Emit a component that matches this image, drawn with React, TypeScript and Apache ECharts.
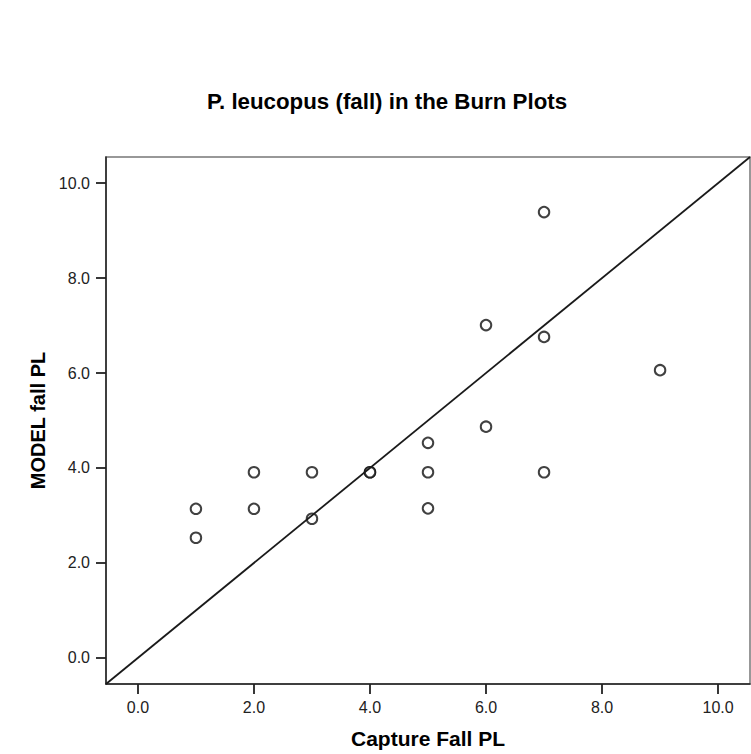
import React, { useEffect, useRef } from "react";
import * as echarts from "echarts";

const captureFall = [1, 1, 2, 2, 3, 3, 4, 4, 5, 5, 5, 6, 6, 7, 7, 7, 9];
const modelFall = [3.14, 2.53, 3.91, 3.14, 3.91, 2.93, 3.91, 3.91, 4.53, 3.91, 3.15, 7.01, 4.87, 9.39, 6.76, 3.91, 6.06];
const tickValues = [0, 2, 4, 6, 8, 10];
const axisMin = -0.55;
const axisMax = 10.55;
const refLine = [axisMin, axisMax];

const FONT = "'Liberation Sans', Arial, sans-serif";

export default function App() {
  const ref = useRef<HTMLDivElement>(null);
  useEffect(() => {
    if (!ref.current) return;
    const chart = echarts.init(ref.current, undefined, { renderer: "svg" });
    const points = captureFall.map((x, i) => [x, modelFall[i]]);
    const axisCommon = (name: string, gap: number, labelMargin: number, nameSize: number) => ({
      type: "value",
      min: axisMin,
      max: axisMax,
      name,
      nameLocation: "middle",
      nameGap: gap,
      nameTextStyle: { fontFamily: FONT, fontSize: nameSize, fontWeight: "bold", color: "#000" },
      splitLine: { show: false },
      axisLine: { show: true, onZero: false, lineStyle: { color: "#222", width: 1.5 } },
      axisTick: {
        show: true,
        length: 10,
        customValues: tickValues,
        lineStyle: { color: "#222", width: 1.8 },
      },
      axisLabel: {
        customValues: tickValues,
        margin: labelMargin,
        fontFamily: FONT,
        fontSize: 16,
        color: "#222",
        formatter: (v: number) => v.toFixed(1),
      },
    });
    chart.setOption({
      animation: false,
      backgroundColor: "#fff",
      title: {
        text: "P. leucopus (fall) in the Burn Plots",
        left: 202,
        top: 85,
        textStyle: { fontFamily: FONT, fontSize: 22.3, fontWeight: "bold", color: "#000" },
      },
      grid: {
        left: 106,
        top: 157,
        right: 1,
        bottom: 68,
        show: true,
        borderColor: "#777",
        borderWidth: 1.5,
        containLabel: false,
      },
      xAxis: axisCommon("Capture Fall PL", 44, 15, 21),
      yAxis: axisCommon("MODEL fall PL", 56, 16, 20),
      series: [
        {
          type: "line",
          data: refLine.map((v) => [v, v]),
          symbol: "none",
          lineStyle: { color: "#1a1a1a", width: 1.8 },
          silent: true,
        },
        {
          type: "scatter",
          data: points,
          symbol: "circle",
          symbolSize: 10.5,
          itemStyle: { color: "#fff", borderColor: "#111", borderWidth: 2 },
        },
      ],
    });
    return () => chart.dispose();
  }, []);
  return (
    <div
      ref={ref}
      style={{ position: "fixed", left: 0, top: 0, width: 751, height: 754 }}
    />
  );
}
